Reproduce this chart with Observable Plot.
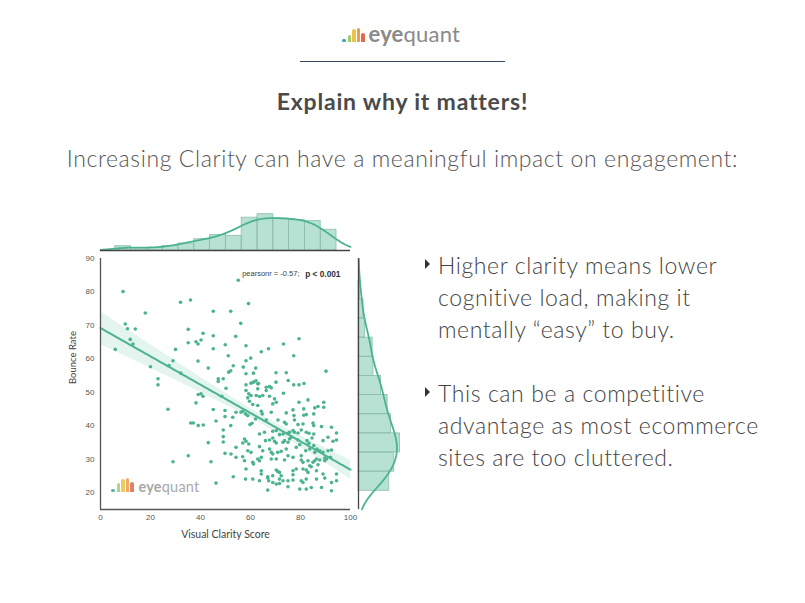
<!DOCTYPE html>
<html><head><meta charset="utf-8">
<script src="https://cdn.jsdelivr.net/npm/d3@7"></script>
<script src="https://cdn.jsdelivr.net/npm/@observablehq/plot@0.6"></script>
<style>
body{margin:0;background:#fff;}
#page{position:relative;width:805px;height:603px;overflow:hidden;font-family:Lato,"Open Sans",sans-serif;color:#444;}
.abs{position:absolute;}
.logo{display:flex;align-items:baseline;}
.logo .dot{width:3.5px;height:3.5px;border-radius:50%;background:#3ea69b;margin-right:2px;}
.logo .bar{width:3.5px;border-radius:2px 2px 0 0;margin-right:1px;}
.logo .b1{height:7.5px;background:#a9c86a;}
.logo .b2{height:13px;background:#ebc24a;}
.logo .b3{height:14px;background:#ef9b4d;}
.logo .b4{height:9px;background:#e1694c;}
.logo .word{color:#8a8a8a;margin-left:3px;letter-spacing:0.2px;}
.logo .word b{font-weight:700;}
.logo .word span{font-weight:400;}
.bul{position:absolute;left:425px;width:380px;font-size:23px;font-weight:300;letter-spacing:0.6px;line-height:32px;color:#444;padding-left:13px;box-sizing:border-box;white-space:nowrap;}
.bul:before{content:"";position:absolute;left:0;top:10px;width:0;height:0;border-left:5px solid #333;border-top:5px solid transparent;border-bottom:5px solid transparent;}
</style></head>
<body><div id="page">
  <div class="abs logo" style="left:342px;top:20px;">
    <div class="dot"></div><div class="bar b1"></div><div class="bar b2"></div><div class="bar b3"></div><div class="bar b4"></div>
    <div class="word" style="font-size:22px;"><b>eye</b><span>quant</span></div>
  </div>
  <div class="abs" style="left:300px;top:61px;width:205px;height:1px;background:#34495e;"></div>
  <div class="abs" style="left:0;top:87px;width:805px;text-align:center;font-size:23px;font-weight:700;letter-spacing:0.8px;line-height:28px;color:#4a4a4a;">Explain why it matters!</div>
  <div class="abs" style="left:0;top:143px;width:805px;text-align:center;font-size:23px;font-weight:300;letter-spacing:0.6px;line-height:30px;color:#555;">Increasing Clarity can have a meaningful impact on engagement:</div>
  <div class="bul" style="top:249px;">Higher clarity means lower<br>cognitive load, making it<br>mentally “easy” to buy.</div>
  <div class="bul" style="top:377px;">This can be a competitive<br>advantage as most ecommerce<br>sites are too cluttered.</div>
  <div id="topMarg" class="abs" style="left:0;top:200px;"></div>
  <div id="mainPlot" class="abs" style="left:0;top:250px;"></div>
  <div id="rightMarg" class="abs" style="left:350px;top:250px;"></div>
  <div class="abs logo" style="left:111px;top:478px;opacity:0.85;">
    <div class="dot"></div><div class="bar b1" style="height:9px"></div><div class="bar b2"></div><div class="bar b3"></div><div class="bar b4" style="height:10.5px"></div>
    <div class="word" style="font-size:14.5px;color:#999;margin-left:4px;"><b>eye</b><span>quant</span></div>
  </div>
</div>
<script>
// Visual Clarity Score (x) and Bounce Rate (y) for each site
const clarity = [9.0,32.0,36.0,17.9,45.1,9.9,10.8,13.9,35.1,41.0,45.1,11.9,13.0,35.1,38.2,39.0,40.2,49.9,5.9,30.0,45.1,29.0,39.0,20.0,27.4,43.1,32.1,23.0,23.0,47.1,47.1,49.1,
55.1,59.2,52.1,56.1,54.1,79.4,58.2,73.2,67.2,64.3,51.1,77.3,60.1,58.2,53.1,57.1,62.1,51.3,52.1,58.2,61.2,70.2,74.3,90.2,61.2,62.2,63.2,70.2,75.1,77.3,79.4,81.4,58.2,
40.2,41.0,39.1,38.2,27.0,45.1,49.8,49.8,36.1,37.1,39.1,41.1,46.2,49.1,49.1,49.1,43.1,49.8,29.0,35.1,44.2,46.2,53.1,54.2,54.2,52.1,54.2,56.2,50.2,48.5,
60.2,62.9,66.3,67.6,58.2,59.3,62.9,66.3,68.3,62.3,63.6,64.9,67.6,60.2,58.9,69.6,70.3,73.2,79.4,83.0,89.3,87.0,85.7,59.6,60.9,62.9,64.3,64.7,68.3,68.9,74.3,77.0,81.3,82.3,89.3,
56.9,58.0,58.9,52.9,77.4,81.3,85.3,62.0,60.6,59.8,66.3,71.0,73.6,74.3,77.6,79.0,81.0,85.0,85.3,88.4,92.4,94.4,
63.6,65.6,68.9,70.3,71.6,73.0,75.0,75.6,77.0,77.6,79.0,80.3,82.3,83.4,84.6,85.3,89.0,91.0,93.0,94.4,
57.6,58.2,56.9,59.3,66.0,67.6,68.9,69.6,70.3,73.0,73.6,75.0,75.6,76.3,79.0,79.7,82.6,83.4,85.3,86.6,
58.9,60.2,63.6,64.9,67.6,68.3,68.9,70.9,72.3,74.3,75.0,78.3,80.3,82.1,83.7,85.7,87.7,89.0,89.7,91.0,92.4,
52.2,56.9,57.6,60.9,61.2,62.9,63.6,64.3,68.3,70.3,73.6,77.0,80.3,81.0,83.0,83.7,84.3,85.0,85.7,86.4,87.0,87.7,89.7,90.4,
58.2,64.3,64.3,66.9,68.9,70.3,70.9,71.6,72.3,77.0,78.3,81.0,82.3,83.0,86.4,89.0,94.4,
58.0,60.9,63.6,66.9,67.3,68.9,70.3,71.6,73.0,75.0,77.0,80.3,81.0,82.3,86.4,89.7,92.4,75.0,66.9,79.7,82.3,84.3,88.4,92.4,94.4,77.0,71.6,92.0];
const bounce = [80.1,76.9,77.6,73.7,74.2,70.4,69.0,68.9,68.8,67.6,66.9,65.8,64.4,64.8,65.1,64.4,65.6,64.2,62.8,62.8,63.0,59.4,59.3,57.6,58.0,57.2,55.7,54.0,52.2,54.0,53.2,54.0,
83.5,76.5,74.2,70.6,66.7,66.0,63.9,64.4,63.0,62.1,60.9,60.9,60.2,59.4,57.9,57.5,57.2,56.0,56.4,55.5,55.7,55.8,55.8,56.3,53.0,53.4,52.6,53.0,53.5,52.2,52.2,52.6,52.2,
49.5,48.8,49.3,46.8,44.9,44.8,44.5,42.7,40.8,40.8,40.0,40.2,41.4,38.7,36.7,35.1,34.9,31.7,29.2,31.0,29.2,22.8,24.7,30.5,33.5,40.0,44.0,44.0,51.2,48.8,
52.7,52.5,51.5,51.7,50.5,49.5,51.0,50.5,51.3,49.0,48.7,49.0,48.8,49.0,48.3,48.0,47.0,49.7,47.0,47.7,47.0,45.7,45.3,47.3,46.3,46.0,44.3,43.5,44.0,46.5,43.8,44.7,45.0,43.3,45.5,
44.3,43.5,43.0,42.5,43.0,43.1,43.5,42.0,40.7,40.3,41.7,41.7,41.0,40.5,41.7,40.3,40.5,40.8,40.0,39.7,39.5,37.8,
37.5,38.0,38.3,38.5,37.3,37.5,37.7,38.0,38.5,38.0,37.8,38.7,38.0,37.7,36.3,37.5,35.5,36.5,35.3,35.7,
36.0,35.3,34.8,34.5,35.5,35.7,36.3,35.3,34.8,35.0,35.5,35.0,36.0,36.5,35.7,34.3,35.5,34.7,34.0,33.0,
32.5,32.0,33.7,32.5,33.0,32.0,31.5,32.0,32.3,33.0,31.0,33.5,31.0,32.5,33.0,32.0,32.5,32.0,30.3,32.5,32.7,
31.5,30.7,29.5,29.0,28.5,30.0,29.5,30.5,30.0,30.0,29.7,30.5,29.7,29.0,29.5,28.0,27.7,29.0,29.5,30.0,28.3,29.7,29.5,30.0,
27.0,26.5,25.5,24.7,25.0,26.7,26.3,26.0,25.0,26.5,27.0,27.0,26.7,26.0,26.5,25.5,25.5,
24.0,24.0,23.5,24.3,23.5,23.0,22.5,22.7,23.5,23.5,23.7,23.5,23.0,24.0,24.0,24.3,23.0,21.7,20.7,21.0,21.0,21.5,21.5,20.5,23.5,25.3,24.0,30.5];

const xTicks = [0, 20, 40, 60, 80, 100];
const yTicks = [20, 30, 40, 50, 60, 70, 80, 90];
const xDomain = [0, 100];
const yDomain = [14.9, 90];
const xBinCount = 14;
const yBinCount = 11;
const statText = "pearsonr = -0.57;";
const statP = "p < 0.001";

const green = "#4cb391";
const pts = clarity.map((x, i) => ({x, y: bounce[i]}));
const n = pts.length;

// regression with 95% confidence band
const mx = d3.mean(clarity), my = d3.mean(bounce);
const sxx = d3.sum(clarity, v => (v - mx) ** 2);
const sxy = d3.sum(pts, p => (p.x - mx) * (p.y - my));
const slope = sxy / sxx, icpt = my - slope * mx;
const sres = Math.sqrt(d3.sum(pts, p => (p.y - icpt - slope * p.x) ** 2) / (n - 2));
const band = d3.range(xDomain[0], xDomain[1] + 0.001, 1).map(x => {
  const f = icpt + slope * x;
  const h = 1.97 * sres * Math.sqrt(1 / n + (x - mx) ** 2 / sxx);
  return {x, f, lo: f - h, hi: f + h};
});

function scott(v) {
  const sd = d3.deviation(v);
  const iqr = d3.quantile(v, 0.75) - d3.quantile(v, 0.25);
  return 1.059 * Math.min(sd, iqr / 1.349) * Math.pow(v.length, -0.2);
}
function kde(v, grid) {
  const bw = scott(v);
  return grid.map(g => ({v: g, d: d3.sum(v, x => Math.exp(-0.5 * ((g - x) / bw) ** 2)) / (v.length * bw * Math.sqrt(2 * Math.PI))}));
}
function hist(v, k) {
  const [a, b] = d3.extent(v);
  const w = (b - a) / k;
  return d3.bin().domain([a, b]).thresholds(d3.range(1, k).map(i => a + i * w))(v)
    .map(bin => ({x0: bin.x0, x1: bin.x1, d: bin.length / (v.length * w)}));
}
const xHist = hist(clarity, xBinCount), yHist = hist(bounce, yBinCount);
const xKde = kde(clarity, d3.range(xDomain[0], xDomain[1] + 0.001, 0.5));
const yKde = kde(bounce, d3.range(yDomain[0], yDomain[1] + 0.001, 0.5));

const axisStyle = {fontFamily: "Arial, 'Liberation Sans', sans-serif", fontSize: "8px", color: "#555", background: "transparent", overflow: "visible"};

const mainChart = Plot.plot({
  width: 355, height: 300,
  marginLeft: 100, marginRight: 5, marginTop: 8, marginBottom: 41,
  style: axisStyle,
  x: {domain: xDomain, ticks: xTicks, tickSize: 0, tickPadding: 5, label: null},
  y: {domain: yDomain, ticks: yTicks, tickSize: 0, tickPadding: 6, label: null},
  marks: [
    Plot.areaY(band, {x: "x", y1: "lo", y2: "hi", fill: green, fillOpacity: 0.15}),
    Plot.dot(pts, {x: "x", y: "y", r: 1.8, fill: green}),
    Plot.line(band, {x: "x", y: "f", stroke: green, strokeWidth: 2}),
    Plot.ruleX([xDomain[0]], {stroke: "#555", strokeWidth: 1.3}),
    Plot.ruleY([yDomain[0]], {stroke: "#555", strokeWidth: 1.3}),
    Plot.text([statText], {frameAnchor: "top-right", dx: -51, dy: 12, text: d => d, textAnchor: "end", fontSize: 7.5, fill: "#444"}),
    Plot.text([statP], {frameAnchor: "top-right", dx: -10, dy: 12.5, text: d => d, textAnchor: "end", fontSize: 8.3, fontWeight: "bold", fill: "#333"}),
    Plot.text(["Visual Clarity Score"], {frameAnchor: "bottom", dy: 28, text: d => d, fontFamily: "Lato, sans-serif", fontSize: 10.5, fill: "#444"}),
    Plot.text(["Bounce Rate"], {frameAnchor: "left", dx: -28, rotate: -90, text: d => d, fontFamily: "Lato, sans-serif", fontSize: 9.5, fill: "#444"})
  ]
});
document.getElementById("mainPlot").appendChild(mainChart);

const topMax = d3.max(xHist, d => d.d) * 40 / 36.3;
const topChart = Plot.plot({
  width: 355, height: 52,
  marginLeft: 100, marginRight: 5, marginTop: 10, marginBottom: 2,
  style: {background: "transparent", overflow: "visible"},
  x: {domain: xDomain, axis: null},
  y: {domain: [0, topMax], axis: null},
  marks: [
    Plot.rectY(xHist, {x1: "x0", x2: "x1", y: "d", fill: green, fillOpacity: 0.4, stroke: "#8fbfa8", strokeWidth: 0.8}),
    Plot.line(xKde, {x: "v", y: "d", stroke: green, strokeWidth: 1.8}),
    Plot.ruleY([0], {stroke: "#444", strokeWidth: 1.3})
  ]
});
document.getElementById("topMarg").appendChild(topChart);

const rightMax = Math.max(d3.max(yHist, d => d.d), d3.max(yKde, d => d.d)) * 1.01;
const rightChart = Plot.plot({
  width: 55, height: 300,
  marginLeft: 8, marginRight: 5, marginTop: 8, marginBottom: 41,
  style: {background: "transparent", overflow: "visible"},
  y: {domain: yDomain, axis: null},
  x: {domain: [0, rightMax], axis: null},
  marks: [
    Plot.rectX(yHist, {y1: "x0", y2: "x1", x: "d", fill: green, fillOpacity: 0.4, stroke: "#8fbfa8", strokeWidth: 0.8}),
    Plot.line(yKde, {x: "d", y: "v", stroke: green, strokeWidth: 1.8}),
    Plot.ruleX([0], {stroke: "#444", strokeWidth: 1.3})
  ]
});
document.getElementById("rightMarg").appendChild(rightChart);
</script>
</body></html>
